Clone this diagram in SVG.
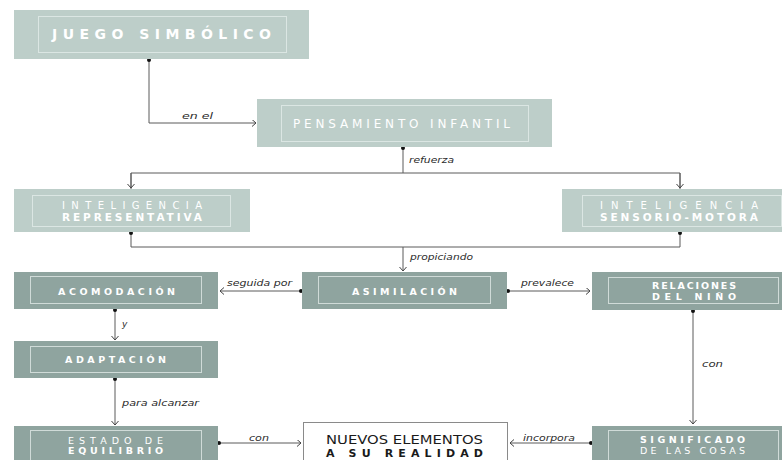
<svg xmlns="http://www.w3.org/2000/svg" width="782" height="460" viewBox="0 0 782 460">
  <style>
    .light { fill: #bdcec9; }
    .dark { fill: #8fa49f; }
    .inner { fill: none; stroke: #e6eeeb; stroke-opacity: 0.75; stroke-width: 1; }
    .t { font-family: "DejaVu Sans", "Liberation Sans", sans-serif; fill: #ffffff; text-anchor: start; }
    .b { font-weight: 700; }
    .r { font-weight: 400; }
    .dk { fill: #1a1a1a; }
    .lbl { font-family: "DejaVu Sans", "Liberation Sans", sans-serif; font-style: italic; font-size: 9px; fill: #2b2b2b; }
    .ln { fill: none; stroke: #5a5a5a; stroke-width: 1; }
    .dot { fill: #111; }
  </style>
  <defs>
    <marker id="arr" markerUnits="userSpaceOnUse" markerWidth="10" markerHeight="10" refX="4" refY="3.5" orient="auto">
      <path d="M0,0 L4,3.5 L0,7" fill="none" stroke="#444" stroke-width="1"/>
    </marker>
  </defs>

  <rect width="782" height="460" fill="#ffffff"/>

  <!-- connectors -->
  <g id="connectors">
    <path class="ln" d="M149,60 V123 H256" marker-end="url(#arr)"/>
    <path class="ln" d="M403,148 V173"/>
    <path class="ln" d="M131,189 V173 H680 V189"/>
    <path class="ln" d="M131,173 V188" marker-end="url(#arr)"/>
    <path class="ln" d="M680,173 V188" marker-end="url(#arr)"/>
    <path class="ln" d="M131,233 V247 H680 V233"/>
    <path class="ln" d="M403,247 V271" marker-end="url(#arr)"/>
    <path class="ln" d="M301,291 H220" marker-end="url(#arr)"/>
    <path class="ln" d="M508,291 H590" marker-end="url(#arr)"/>
    <path class="ln" d="M693,311 V424" marker-end="url(#arr)"/>
    <path class="ln" d="M115,310 V340" marker-end="url(#arr)"/>
    <path class="ln" d="M115,379 V425" marker-end="url(#arr)"/>
    <path class="ln" d="M219,443 H301" marker-end="url(#arr)"/>
    <path class="ln" d="M591,443 H510" marker-end="url(#arr)"/>

    <circle class="dot" cx="149" cy="60" r="2"/>
    <circle class="dot" cx="403" cy="148" r="2"/>
    <circle class="dot" cx="131" cy="233" r="2"/>
    <circle class="dot" cx="680" cy="233" r="2"/>
    <circle class="dot" cx="301" cy="291" r="2"/>
    <circle class="dot" cx="508" cy="291" r="2"/>
    <circle class="dot" cx="693" cy="311" r="2"/>
    <circle class="dot" cx="115" cy="310" r="2"/>
    <circle class="dot" cx="115" cy="379" r="2"/>
    <circle class="dot" cx="219" cy="443" r="2"/>
    <circle class="dot" cx="591" cy="443" r="2"/>

    <text class="lbl" x="182" y="119" textLength="31" lengthAdjust="spacingAndGlyphs">en el</text>
    <text class="lbl" x="409" y="163" textLength="45" lengthAdjust="spacingAndGlyphs">refuerza</text>
    <text class="lbl" x="410" y="260" textLength="63" lengthAdjust="spacingAndGlyphs">propiciando</text>
    <text class="lbl" x="227" y="286" textLength="65" lengthAdjust="spacingAndGlyphs">seguida por</text>
    <text class="lbl" x="521" y="286" textLength="53" lengthAdjust="spacingAndGlyphs">prevalece</text>
    <text class="lbl" x="122" y="327">y</text>
    <text class="lbl" x="122" y="406" textLength="77" lengthAdjust="spacingAndGlyphs">para alcanzar</text>
    <text class="lbl" x="249" y="441" textLength="20" lengthAdjust="spacingAndGlyphs">con</text>
    <text class="lbl" x="523" y="441" textLength="52" lengthAdjust="spacingAndGlyphs">incorpora</text>
    <text class="lbl" x="702" y="367" textLength="21" lengthAdjust="spacingAndGlyphs">con</text>
  </g>

  <!-- nodes -->
  <g id="juego-simbolico">
    <rect class="light" x="14" y="10" width="295" height="49"/>
    <rect class="inner" x="38.5" y="16.5" width="248" height="36"/>
    <text class="t b" x="52" y="39" font-size="14" textLength="219" lengthAdjust="spacing">JUEGO SIMBÓLICO</text>
  </g>

  <g id="pensamiento-infantil">
    <rect class="light" x="257" y="99" width="295" height="48"/>
    <rect class="inner" x="281.5" y="105.5" width="247" height="36"/>
    <text class="t r" x="293" y="128" font-size="12" textLength="217" lengthAdjust="spacing">PENSAMIENTO INFANTIL</text>
  </g>

  <g id="inteligencia-representativa">
    <rect class="light" x="14" y="189" width="236" height="43"/>
    <rect class="inner" x="32.5" y="195.5" width="198" height="31"/>
    <text class="t r" x="62" y="208.5" font-size="10" textLength="140" lengthAdjust="spacing">INTELIGENCIA</text>
    <text class="t b" x="62" y="221" font-size="10.5" textLength="140" lengthAdjust="spacing">REPRESENTATIVA</text>
  </g>

  <g id="inteligencia-sensorio-motora">
    <rect class="light" x="562" y="189" width="220" height="43"/>
    <rect class="inner" x="582.5" y="195.5" width="199" height="31"/>
    <text class="t r" x="600" y="208.5" font-size="10" textLength="158" lengthAdjust="spacing">INTELIGENCIA</text>
    <text class="t b" x="600" y="220.5" font-size="10.5" textLength="158" lengthAdjust="spacing">SENSORIO-MOTORA</text>
  </g>

  <g id="acomodacion">
    <rect class="dark" x="14" y="272" width="204" height="37"/>
    <rect class="inner" x="30.5" y="276.5" width="171" height="27"/>
    <text class="t b" x="58" y="295" font-size="9.5" textLength="117" lengthAdjust="spacing">ACOMODACIÓN</text>
  </g>

  <g id="asimilacion">
    <rect class="dark" x="302" y="272" width="205" height="37"/>
    <rect class="inner" x="318.5" y="276.5" width="172" height="27"/>
    <text class="t b" x="352" y="295" font-size="9.5" textLength="105" lengthAdjust="spacing">ASIMILACIÓN</text>
  </g>

  <g id="relaciones-del-nino">
    <rect class="dark" x="592" y="272" width="190" height="38"/>
    <rect class="inner" x="608.5" y="277.5" width="170" height="26"/>
    <text class="t b" x="652" y="289" font-size="9.5" textLength="84" lengthAdjust="spacing">RELACIONES</text>
    <text class="t b" x="652" y="299.5" font-size="9.5" textLength="84" lengthAdjust="spacing">DEL NIÑO</text>
  </g>

  <g id="adaptacion">
    <rect class="dark" x="14" y="341" width="204" height="37"/>
    <rect class="inner" x="30.5" y="346.5" width="171" height="26"/>
    <text class="t b" x="65" y="363" font-size="9.5" textLength="101" lengthAdjust="spacing">ADAPTACIÓN</text>
  </g>

  <g id="estado-de-equilibrio">
    <rect class="dark" x="14" y="426" width="204" height="40"/>
    <rect class="inner" x="30.5" y="430.5" width="171" height="34"/>
    <text class="t r" x="68" y="444" font-size="9.5" textLength="95" lengthAdjust="spacing">ESTADO DE</text>
    <text class="t b" x="68" y="454" font-size="9.5" textLength="95" lengthAdjust="spacing">EQUILIBRIO</text>
  </g>

  <g id="nuevos-elementos">
    <rect x="303.5" y="422.5" width="204" height="44" fill="#ffffff" stroke="#8a8a8a" stroke-width="1"/>
    <text class="t r dk" x="326" y="443.5" font-size="11.5" textLength="157" lengthAdjust="spacingAndGlyphs">NUEVOS ELEMENTOS</text>
    <text class="t b dk" x="326" y="456.5" font-size="11" textLength="157" lengthAdjust="spacing">A SU REALIDAD</text>
  </g>

  <g id="significado-de-las-cosas">
    <rect class="dark" x="592" y="426" width="190" height="40"/>
    <rect class="inner" x="608.5" y="430.5" width="170" height="34"/>
    <text class="t b" x="640" y="443" font-size="9.5" textLength="105" lengthAdjust="spacing">SIGNIFICADO</text>
    <text class="t r" x="640" y="454" font-size="9.5" textLength="105" lengthAdjust="spacing">DE LAS COSAS</text>
  </g>
</svg>
